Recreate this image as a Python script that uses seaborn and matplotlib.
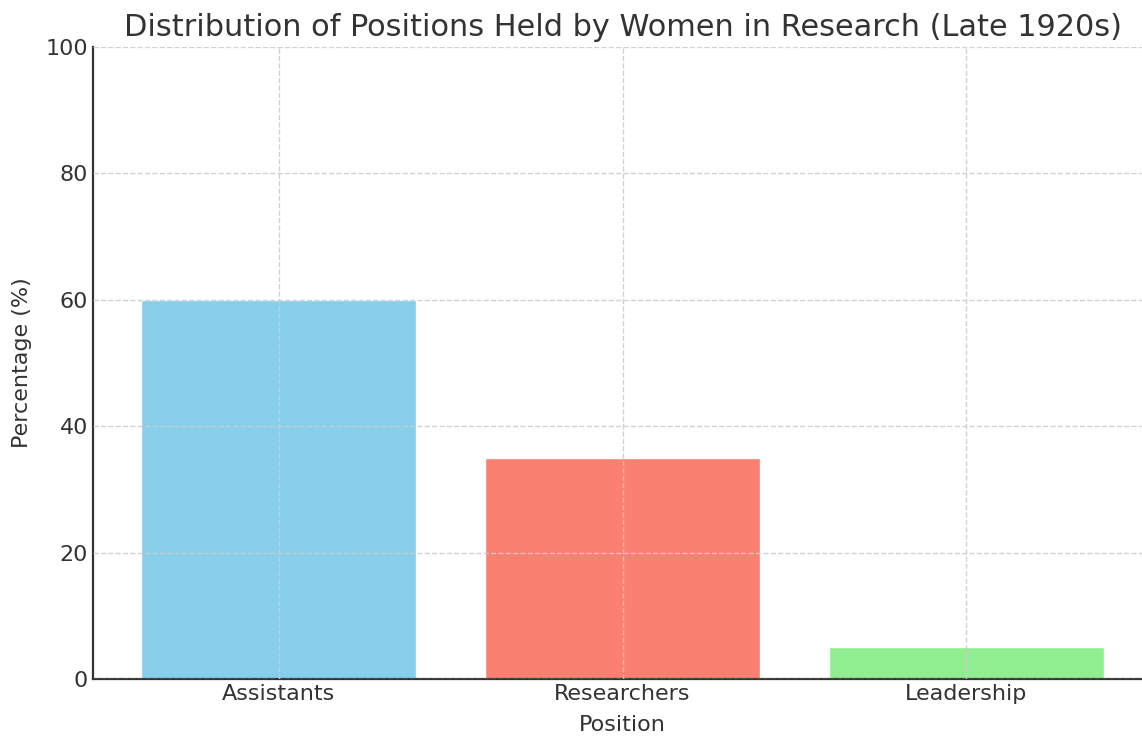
import matplotlib
matplotlib.use("Agg")
import pandas as pd
import seaborn as sns
from matplotlib import pyplot as plt

positions = ["Assistants", "Researchers", "Leadership"]
percentages = [60, 35, 5]
bar_colors = ["skyblue", "salmon", "lightgreen"]

df = pd.DataFrame({"Position": positions, "Percentage": percentages})

sns.set_style("white")
plt.rcParams["font.family"] = ["DejaVu Sans"]
text_color = "#333333"

fig = plt.figure(figsize=(11.42, 7.36), dpi=100)
ax = fig.add_axes([93 / 1142, 1 - 679 / 736, (1152 - 93) / 1142, (679 - 47) / 736])

sns.barplot(
    data=df,
    x="Position",
    y="Percentage",
    hue="Position",
    palette=bar_colors,
    saturation=1,
    width=0.8,
    legend=False,
    ax=ax,
)

ax.set_xlim(-0.54, 2.54)
ax.set_ylim(0, 100)
ax.set_axisbelow(False)
ax.grid(True, linestyle="--", color="#cccccc", linewidth=1.0, alpha=0.9)

for side in ["top", "right"]:
    ax.spines[side].set_visible(False)
for side in ["left", "bottom"]:
    ax.spines[side].set_color(text_color)
    ax.spines[side].set_linewidth(1.6)

ax.tick_params(axis="both", direction="in", length=5, width=1.4, colors=text_color,
               labelsize=16, labelcolor=text_color)

ax.set_title("Distribution of Positions Held by Women in Research (Late 1920s)",
             fontsize=21.9, color=text_color, pad=8)
ax.set_xlabel("Position", fontsize=16, color=text_color, labelpad=8)
ax.set_ylabel("Percentage (%)", fontsize=16, color=text_color, labelpad=10)

fig.savefig("out.png", dpi=100)
